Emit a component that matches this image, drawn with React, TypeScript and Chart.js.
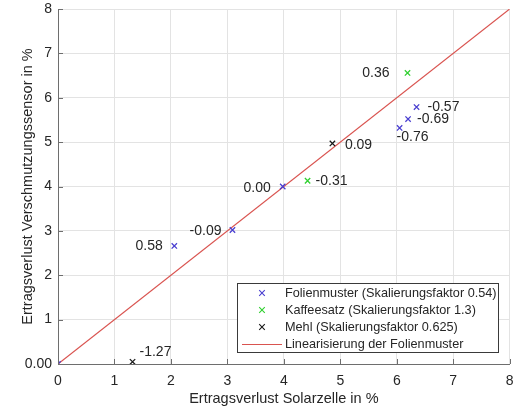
import React, { useEffect, useRef } from 'react';
import { Chart, registerables } from 'chart.js';

Chart.register(...registerables);

// ---- data ----
const folienX = [0, 2.06, 3.09, 3.98, 6.05, 6.2, 6.35];
const folienY = [0, 2.66, 3.02, 4.0, 5.32, 5.52, 5.79];
const folienLabels = ['0.00', '0.58', '-0.09', '0.00', '-0.76', '-0.69', '-0.57'];

const kaffeeX = [4.42, 6.19];
const kaffeeY = [4.13, 6.56];
const kaffeeLabels = ['-0.31', '0.36'];

const mehlX = [4.86, 1.32];
const mehlY = [4.97, 0.05];
const mehlLabels = ['0.09', '-1.27'];

const lineX = [0, 8];
const lineY = [0, 8];

const xTickValues = [0, 1, 2, 3, 4, 5, 6, 7, 8];
const yTickValues = [0, 1, 2, 3, 4, 5, 6, 7, 8];

const legendNames = [
  'Folienmuster (Skalierungsfaktor 0.54)',
  'Kaffeesatz (Skalierungsfaktor 1.3)',
  'Mehl (Skalierungsfaktor 0.625)',
  'Linearisierung der Folienmuster',
];

const xTitle = 'Ertragsverlust Solarzelle in %';
const yTitle = 'Ertragsverlust Verschmutzungssensor in %';

// ---- label placement (pixel offsets, alignment) ----
const folienLabelPos: [number, number, CanvasTextAlign][] = [
  [-6, 0, 'right'], [-11.5, 0, 'right'], [-11, 1, 'right'], [-12, 1.5, 'right'],
  [-3, 9.5, 'left'], [9, 0, 'left'], [11, 0, 'left'],
];
const kaffeeLabelPos: [number, number, CanvasTextAlign][] = [[8, 0, 'left'], [-18, 0, 'right']];
const mehlLabelPos: [number, number, CanvasTextAlign][] = [[12.5, 1.5, 'left'], [7, -9.5, 'left']];

const FONT = '"Liberation Sans", Arial, Helvetica, sans-serif';
const BLUE = '#4a3fd0';
const GREEN = '#30d030';
const BLACK = '#1a1a1a';
const RED = '#d9534f';
const AXIS = '#6e6e6e';
const GRID = '#e3e3e3';
const TEXT = '#262626';

const toPts = (xs: number[], ys: number[]) => xs.map((x, i) => ({ x, y: ys[i] }));

const labelPlugin = {
  id: 'pointLabels',
  afterDatasetsDraw(chart: any) {
    const ctx = chart.ctx;
    const sets: [number, string[], [number, number, CanvasTextAlign][]][] = [
      [0, folienLabels, folienLabelPos],
      [1, kaffeeLabels, kaffeeLabelPos],
      [2, mehlLabels, mehlLabelPos],
    ];
    ctx.save();
    ctx.font = `14px ${FONT}`;
    ctx.fillStyle = TEXT;
    ctx.textBaseline = 'middle';
    for (const [di, labels, pos] of sets) {
      const meta = chart.getDatasetMeta(di);
      meta.data.forEach((pt: any, j: number) => {
        const [dx, dy, al] = pos[j];
        ctx.textAlign = al;
        ctx.fillText(labels[j], pt.x + dx, pt.y + dy);
      });
    }
    ctx.restore();
  },
};

const tickPlugin = {
  id: 'inwardTicks',
  afterDraw(chart: any) {
    const ctx = chart.ctx;
    const { left, bottom } = chart.chartArea;
    const xs = chart.scales.x;
    const ys = chart.scales.y;
    ctx.save();
    ctx.strokeStyle = AXIS;
    ctx.lineWidth = 1;
    ctx.beginPath();
    xTickValues.forEach((v) => {
      const px = Math.round(xs.getPixelForValue(v)) + 0.5;
      ctx.moveTo(px, bottom);
      ctx.lineTo(px, bottom - 5);
    });
    yTickValues.forEach((v) => {
      const py = Math.round(ys.getPixelForValue(v)) + 0.5;
      ctx.moveTo(left, py);
      ctx.lineTo(left + 5, py);
    });
    ctx.stroke();
    ctx.restore();
  },
};

const legendPlugin = {
  id: 'boxLegend',
  afterDraw(chart: any) {
    const ctx = chart.ctx;
    const bx = 237.5, by = 283.5, bw = 261, bh = 69;
    ctx.save();
    ctx.fillStyle = '#ffffff';
    ctx.fillRect(bx, by, bw, bh);
    ctx.strokeStyle = '#3a3a3a';
    ctx.lineWidth = 1;
    ctx.strokeRect(bx, by, bw, bh);
    const rows = [293, 310, 327, 344];
    const colors = [BLUE, GREEN, BLACK];
    ctx.font = `12.7px ${FONT}`;
    ctx.fillStyle = TEXT;
    ctx.textAlign = 'left';
    ctx.textBaseline = 'middle';
    legendNames.forEach((name, i) => {
      const y = rows[i];
      if (i < 3) {
        ctx.strokeStyle = colors[i];
        ctx.lineWidth = 1.1;
        ctx.beginPath();
        const cx = 262, r = 2.8;
        ctx.moveTo(cx - r, y - r);
        ctx.lineTo(cx + r, y + r);
        ctx.moveTo(cx - r, y + r);
        ctx.lineTo(cx + r, y - r);
        ctx.stroke();
      } else {
        ctx.strokeStyle = RED;
        ctx.lineWidth = 1;
        ctx.beginPath();
        ctx.moveTo(242, y + 0.5);
        ctx.lineTo(282, y + 0.5);
        ctx.stroke();
      }
      ctx.fillStyle = TEXT;
      ctx.fillText(name, 285, y);
    });
    ctx.restore();
  },
};

export default function App() {
  const ref = useRef<HTMLCanvasElement | null>(null);

  useEffect(() => {
    if (!ref.current) return;
    const pointDs = (label: string, xs: number[], ys: number[], color: string) => ({
      label,
      data: toPts(xs, ys),
      pointStyle: 'crossRot' as const,
      pointRadius: 3.8,
      pointBorderWidth: 1.3,
      borderColor: color,
      backgroundColor: color,
      pointBorderColor: color,
      showLine: false,
    });
    const chart = new Chart(ref.current, {
      type: 'scatter',
      data: {
        datasets: [
          pointDs(legendNames[0], folienX, folienY, BLUE),
          pointDs(legendNames[1], kaffeeX, kaffeeY, GREEN),
          pointDs(legendNames[2], mehlX, mehlY, BLACK),
          {
            label: legendNames[3],
            data: toPts(lineX, lineY),
            showLine: true,
            borderColor: RED,
            borderWidth: 1.2,
            pointRadius: 0,
            order: 10,
          } as any,
        ],
      },
      options: {
        responsive: false,
        animation: false,
        events: [],
        layout: { padding: { top: 9, right: 5, left: 0, bottom: 0 } },
        plugins: {
          legend: { display: false },
          tooltip: { enabled: false },
          title: { display: false },
        },
        scales: {
          x: {
            type: 'linear',
            min: 0,
            max: 8,
            afterFit: (s: any) => { s.height = 44; s.paddingLeft = 0; s.paddingRight = 0; },
            afterBuildTicks: (s: any) => { s.ticks = xTickValues.map((v) => ({ value: v })); },
            ticks: { font: { size: 14, family: FONT }, color: TEXT, padding: 9, maxRotation: 0 },
            grid: { color: GRID, drawTicks: false },
            border: { color: AXIS, width: 1 },
            title: {
              display: true,
              text: xTitle,
              font: { size: 14.5, family: FONT },
              color: TEXT,
              padding: { top: 0, bottom: 0 },
            },
          },
          y: {
            type: 'linear',
            min: 0,
            max: 8,
            afterFit: (s: any) => { s.width = 58; s.paddingTop = 0; s.paddingBottom = 0; },
            afterBuildTicks: (s: any) => { s.ticks = yTickValues.map((v) => ({ value: v })); },
            ticks: {
              font: { size: 14, family: FONT },
              color: TEXT,
              padding: 6,
              callback: (v: any) => (v === 0 ? '' : String(v)),
            },
            grid: { color: GRID, drawTicks: false },
            border: { color: AXIS, width: 1 },
            title: {
              display: true,
              text: yTitle,
              font: { size: 14.5, family: FONT },
              color: TEXT,
              padding: { top: 19, bottom: 0 },
            },
          },
        },
      },
      plugins: [labelPlugin, tickPlugin, legendPlugin],
    });
    return () => chart.destroy();
  }, []);

  return (
    <div style={{ position: 'absolute', left: 0, top: 0, width: 515, height: 408, background: '#fff' }}>
      <canvas ref={ref} width={515} height={408} style={{ display: 'block', width: 515, height: 408 }} />
    </div>
  );
}
